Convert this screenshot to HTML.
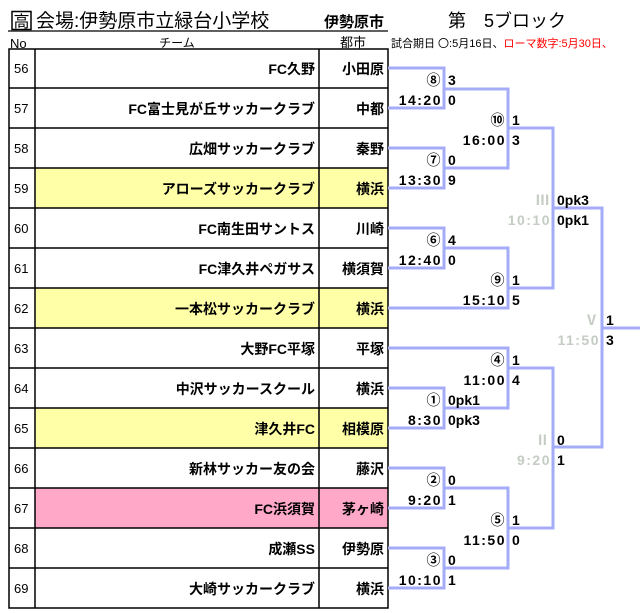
<!DOCTYPE html>
<html><head><meta charset="utf-8"><style>
body{margin:0;background:#fff}
svg{display:block}
text{font-family:"Liberation Sans","Noto Sans CJK JP",sans-serif}
.t{font-size:14px;font-weight:bold;text-anchor:end}
.n{font-size:13px;text-anchor:start}
.m{font-family:"Liberation Mono","Noto Sans CJK JP",monospace;font-size:14px;font-weight:bold;text-anchor:end;letter-spacing:1.5px}
.s{font-family:"Liberation Mono",monospace;font-size:14px;font-weight:bold}
.g{fill:#c4ccc4}
.l{fill:none;stroke:#a4acf8;stroke-width:3}
</style></head><body>
<svg width="644" height="613" viewBox="0 0 644 613">
<!-- header -->
<rect x="12" y="11.5" width="19" height="18" fill="none" stroke="#000" stroke-width="1.5"/>
<text x="21.5" y="27" font-size="16" text-anchor="middle">高</text>
<text x="36" y="27" font-size="19">会場:伊勢原市立緑台小学校</text>
<line x1="8" y1="31" x2="388" y2="31" stroke="#000" stroke-width="1.2"/>
<text x="324" y="27" font-size="15" font-weight="bold">伊勢原市</text>
<text x="448" y="27" font-size="18">第　5ブロック</text>
<text x="10" y="48" font-size="13">No</text>
<text x="177" y="47" font-size="12" text-anchor="middle">チーム</text>
<text x="353" y="47" font-size="13" text-anchor="middle">都市</text>
<text x="391" y="47" font-size="11">試合期日 〇:5月16日、<tspan fill="#f00">ローマ数字:5月30日、</tspan></text>
<!-- table -->
<rect x="35" y="168" width="353" height="40" fill="#ffffa8"/>
<rect x="35" y="288" width="353" height="40" fill="#ffffa8"/>
<rect x="35" y="408" width="353" height="40" fill="#ffffa8"/>
<rect x="35" y="488" width="353" height="40" fill="#ffa8c8"/>
<g stroke="#000" stroke-width="1.5">
<rect x="9" y="49" width="379" height="559" fill="none"/>
<line x1="35" y1="49" x2="35" y2="608"/>
<line x1="319" y1="49" x2="319" y2="608"/>
<line x1="9" y1="88" x2="388" y2="88"/><line x1="9" y1="128" x2="388" y2="128"/>
<line x1="9" y1="168" x2="388" y2="168"/><line x1="9" y1="208" x2="388" y2="208"/>
<line x1="9" y1="248" x2="388" y2="248"/><line x1="9" y1="288" x2="388" y2="288"/>
<line x1="9" y1="328" x2="388" y2="328"/><line x1="9" y1="368" x2="388" y2="368"/>
<line x1="9" y1="408" x2="388" y2="408"/><line x1="9" y1="448" x2="388" y2="448"/>
<line x1="9" y1="488" x2="388" y2="488"/><line x1="9" y1="528" x2="388" y2="528"/>
<line x1="9" y1="568" x2="388" y2="568"/>
</g>
<g class="n">
<text x="14" y="73">56</text><text x="14" y="113">57</text><text x="14" y="153">58</text>
<text x="14" y="193">59</text><text x="14" y="233">60</text><text x="14" y="273">61</text>
<text x="14" y="313">62</text><text x="14" y="353">63</text><text x="14" y="393">64</text>
<text x="14" y="433">65</text><text x="14" y="473">66</text><text x="14" y="513">67</text>
<text x="14" y="553">68</text><text x="14" y="593">69</text>
</g>
<g class="t">
<text x="315" y="74">FC久野</text><text x="315" y="114">FC富士見が丘サッカークラブ</text>
<text x="315" y="154">広畑サッカークラブ</text><text x="315" y="194">アローズサッカークラブ</text>
<text x="315" y="234">FC南生田サントス</text><text x="315" y="274">FC津久井ペガサス</text>
<text x="315" y="314">一本松サッカークラブ</text><text x="315" y="354">大野FC平塚</text>
<text x="315" y="394">中沢サッカースクール</text><text x="315" y="434">津久井FC</text>
<text x="315" y="474">新林サッカー友の会</text><text x="315" y="514">FC浜須賀</text>
<text x="315" y="554">成瀬SS</text><text x="315" y="594">大崎サッカークラブ</text>
</g>
<g class="t">
<text x="384" y="74">小田原</text><text x="384" y="114">中都</text><text x="384" y="154">秦野</text>
<text x="384" y="194">横浜</text><text x="384" y="234">川崎</text><text x="384" y="274">横須賀</text>
<text x="384" y="314">横浜</text><text x="384" y="354">平塚</text><text x="384" y="394">横浜</text>
<text x="384" y="434">相模原</text><text x="384" y="474">藤沢</text><text x="384" y="514">茅ヶ崎</text>
<text x="384" y="554">伊勢原</text><text x="384" y="594">横浜</text>
</g>
<!-- bracket lines -->
<g class="l">
<polyline points="388,68 444,68 444,108 388,108"/>
<polyline points="388,148 444,148 444,188 388,188"/>
<polyline points="388,228 444,228 444,268 388,268"/>
<polyline points="388,388 444,388 444,428 388,428"/>
<polyline points="388,468 444,468 444,508 388,508"/>
<polyline points="388,548 444,548 444,588 388,588"/>
<polyline points="444,89 508,89 508,168 444,168"/>
<polyline points="444,248 508,248 508,308 388,308"/>
<polyline points="388,348 508,348 508,408 444,408"/>
<polyline points="444,488 508,488 508,568 444,568"/>
<polyline points="508,128 553,128 553,288 508,288"/>
<polyline points="508,368 553,368 553,528 508,528"/>
<polyline points="553,208 602,208 602,447 553,447"/>
<line x1="602" y1="328" x2="640" y2="328"/>
</g>
<!-- match labels -->
<g class="m">
<text x="442" y="85">⑧</text><text x="442" y="105">14:20</text>
<text x="442" y="165">⑦</text><text x="442" y="185">13:30</text>
<text x="442" y="245">⑥</text><text x="442" y="265">12:40</text>
<text x="442" y="405">①</text><text x="442" y="425">8:30</text>
<text x="442" y="485">②</text><text x="442" y="505">9:20</text>
<text x="442" y="565">③</text><text x="442" y="585">10:10</text>
<text x="506" y="125">⑩</text><text x="506" y="145">16:00</text>
<text x="506" y="285">⑨</text><text x="506" y="305">15:10</text>
<text x="506" y="365">④</text><text x="506" y="385">11:00</text>
<text x="506" y="525">⑤</text><text x="506" y="545">11:50</text>
<text class="g" x="551" y="205">Ⅲ</text><text class="g" x="551" y="225">10:10</text>
<text class="g" x="551" y="445">Ⅱ</text><text class="g" x="551" y="465">9:20</text>
<text class="g" x="600" y="325">Ⅴ</text><text class="g" x="600" y="345">11:50</text>
</g>
<g class="s">
<text x="448" y="85">3</text><text x="448" y="105">0</text>
<text x="448" y="165">0</text><text x="448" y="185">9</text>
<text x="448" y="245">4</text><text x="448" y="265">0</text>
<text x="448" y="405">0pk1</text><text x="448" y="425">0pk3</text>
<text x="448" y="485">0</text><text x="448" y="505">1</text>
<text x="448" y="565">0</text><text x="448" y="585">1</text>
<text x="512" y="125">1</text><text x="512" y="145">3</text>
<text x="512" y="285">1</text><text x="512" y="305">5</text>
<text x="512" y="365">1</text><text x="512" y="385">4</text>
<text x="512" y="525">1</text><text x="512" y="545">0</text>
<text x="557" y="205">0pk3</text><text x="557" y="225">0pk1</text>
<text x="557" y="445">0</text><text x="557" y="465">1</text>
<text x="606" y="325">1</text><text x="606" y="345">3</text>
</g>
</svg>
</body></html>
